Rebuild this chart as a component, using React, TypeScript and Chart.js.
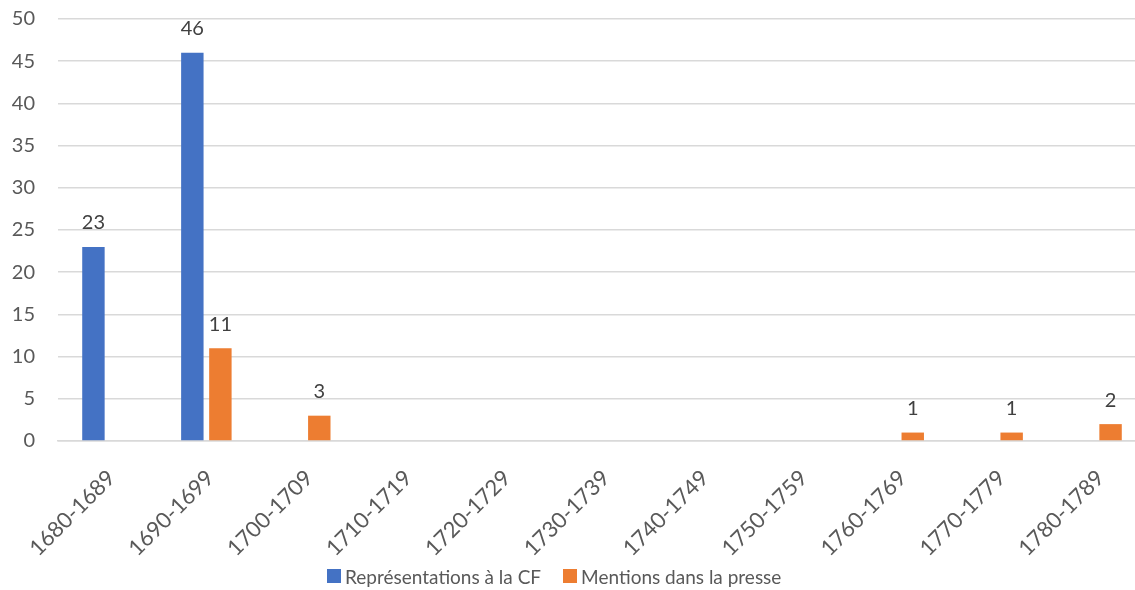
import React, { useEffect, useRef } from "react";
import { Chart, registerables } from "chart.js";

Chart.register(...registerables);

const categories = [
  "1680-1689", "1690-1699", "1700-1709", "1710-1719", "1720-1729", "1730-1739",
  "1740-1749", "1750-1759", "1760-1769", "1770-1779", "1780-1789",
];
const cfValues = [23, 46, 0, 0, 0, 0, 0, 0, 0, 0, 0];
const presseValues = [0, 11, 3, 0, 0, 0, 0, 0, 1, 1, 2];
const seriesNames = ["Représentations à la CF", "Mentions dans la presse"];
const seriesColors = ["#4472C4", "#ED7D31"];
const yMin = 0;
const yMax = 50;
const yStep = 5;

const FONT = "Lato, 'Open Sans', sans-serif";

const valueLabels = {
  id: "valueLabels",
  afterDatasetsDraw(chart: any) {
    const ctx = chart.ctx;
    ctx.save();
    ctx.font = `20px ${FONT}`;
    ctx.fillStyle = "#404040";
    ctx.textAlign = "center";
    ctx.textBaseline = "middle";
    chart.data.datasets.forEach((ds: any, i: number) => {
      const meta = chart.getDatasetMeta(i);
      meta.data.forEach((bar: any, j: number) => {
        const v = ds.data[j];
        if (!v) return;
        ctx.fillText(String(v), bar.x, bar.y - 24);
      });
    });
    ctx.restore();
  },
};

export default function App() {
  const ref = useRef<HTMLCanvasElement | null>(null);
  useEffect(() => {
    if (!ref.current) return;
    const chart = new Chart(ref.current, {
      type: "bar",
      data: {
        labels: categories,
        datasets: [
          { label: seriesNames[0], data: cfValues, backgroundColor: seriesColors[0], categoryPercentage: 0.567, barPercentage: 0.8 },
          { label: seriesNames[1], data: presseValues, backgroundColor: seriesColors[1], categoryPercentage: 0.567, barPercentage: 0.8 },
        ],
      },
      options: {
        animation: false,
        responsive: false,
        maintainAspectRatio: false,
        layout: { padding: { top: 19, left: 0, right: 0, bottom: 0 } },
        scales: {
          x: {
            grid: { display: false },
            border: { color: "#D9D9D9", width: 1.5 },
            ticks: {
              color: "#595959",
              font: { family: FONT, size: 22 },
              minRotation: 45,
              maxRotation: 45,
              padding: 16,
              labelOffset: 4,
            },
            afterFit(scale: any) { scale.height = 149; },
          },
          y: {
            min: yMin,
            max: yMax,
            border: { display: false },
            grid: { color: "#D9D9D9", lineWidth: 1.5, drawTicks: false },
            ticks: {
              stepSize: yStep,
              color: "#595959",
              font: { family: FONT, size: 20 },
              padding: 23,
            },
            afterFit(scale: any) {
              scale.width = 58;
              scale.paddingTop = 0;
              scale.paddingBottom = 0;
            },
          },
        },
        plugins: {
          legend: { display: false },
          tooltip: { enabled: false },
        },
      },
      plugins: [valueLabels],
    });
    return () => chart.destroy();
  }, []);
  return (
    <div style={{ position: "fixed", left: 0, top: 0, width: 1135, height: 590, overflow: "hidden", background: "#fff" }}>
      <canvas ref={ref} width={1146} height={590} style={{ width: 1146, height: 590, display: "block" }} />
      <div
        style={{
          position: "absolute", left: 327, top: 564, height: 24, display: "flex", alignItems: "center",
          fontFamily: FONT, fontSize: 19, color: "#595959", whiteSpace: "nowrap",
        }}
      >
        {seriesNames.map((name, i) => (
          <div key={name} style={{ display: "flex", alignItems: "center", marginRight: 22 }}>
            <span style={{ display: "inline-block", width: 14, height: 14, background: seriesColors[i], marginRight: 4 }} />
            <span>{name}</span>
          </div>
        ))}
      </div>
    </div>
  );
}
